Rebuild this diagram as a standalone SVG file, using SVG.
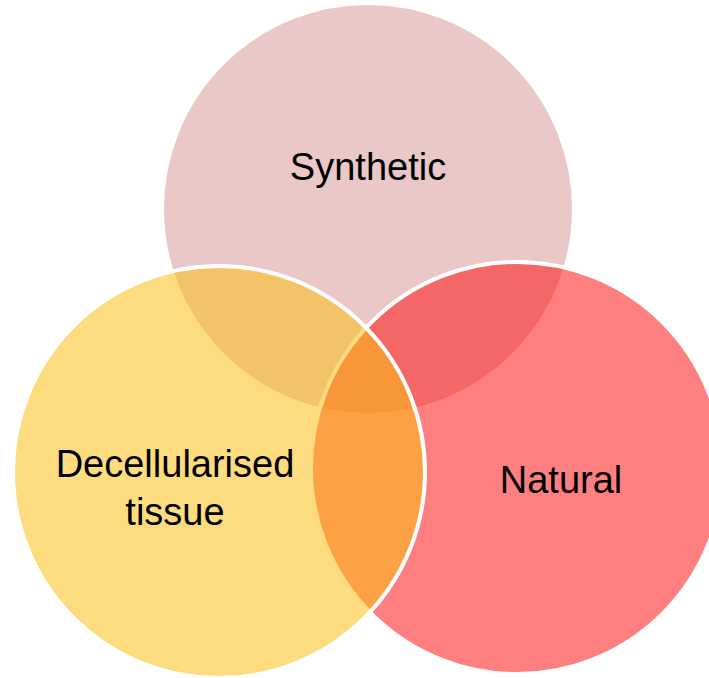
<svg xmlns="http://www.w3.org/2000/svg" width="709" height="678" viewBox="0 0 709 678">
<style>
.c{stroke:#ffffff;stroke-width:4}
.t{font-family:"Liberation Sans",Arial,sans-serif;font-size:38px;fill:#000000;text-anchor:middle}
</style>
<rect width="709" height="678" fill="#ffffff"/>
<g id="synthetic">
<circle class="c" cx="368" cy="209" r="206" fill="#EAC8C8"/>
<text class="t" x="368" y="180">Synthetic</text>
</g>
<g id="natural">
<circle class="c" cx="517" cy="468" r="206" fill="#FD1616" fill-opacity="0.55"/>
<text class="t" x="561" y="493">Natural</text>
</g>
<g id="decellularised">
<circle class="c" cx="219" cy="472" r="206" fill="#FBBE14" fill-opacity="0.54"/>
<text class="t" x="175" y="477">Decellularised</text>
<text class="t" x="175" y="525">tissue</text>
</g>
<g id="connectors"></g>
</svg>
